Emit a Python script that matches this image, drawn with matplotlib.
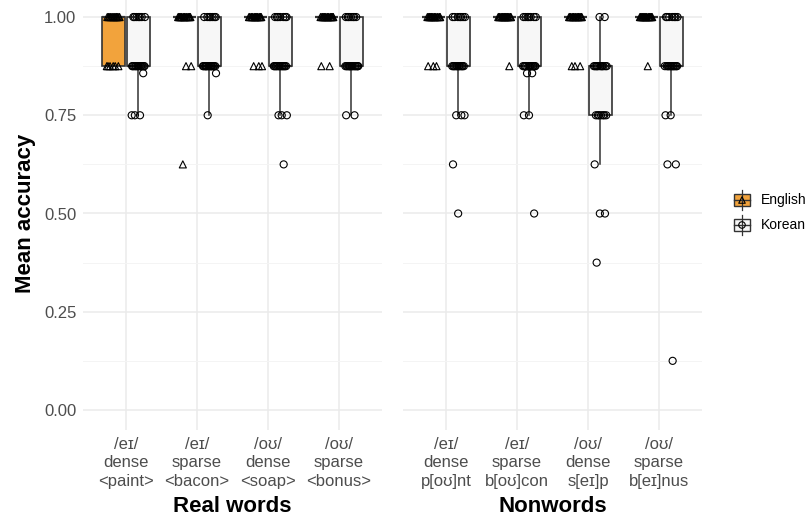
import numpy as np
import matplotlib
matplotlib.use("Agg")
import matplotlib.pyplot as plt
from matplotlib.patches import Rectangle

plt.rcParams['font.family'] = ['Liberation Sans', 'DejaVu Sans']

# condition labels for the two facets
real_labels = ["/eɪ/\ndense\n<paint>", "/eɪ/\nsparse\n<bacon>",
               "/oʊ/\ndense\n<soap>", "/oʊ/\nsparse\n<bonus>"]
non_labels = ["/eɪ/\ndense\np[oʊ]nt", "/eɪ/\nsparse\nb[oʊ]con",
              "/oʊ/\ndense\ns[eɪ]p", "/oʊ/\nsparse\nb[eɪ]nus"]
facets = ["Real words", "Nonwords"]
groups = ["English", "Korean"]


def rep(pairs):
    out = []
    for v, n in pairs:
        out += [v] * n
    return out


# per-participant mean accuracy, English listeners
eng_real = [
    rep([(0.875, 6), (1.0, 14)]),
    rep([(0.625, 1), (0.875, 2), (1.0, 17)]),
    rep([(0.875, 3), (1.0, 17)]),
    rep([(0.875, 2), (1.0, 18)]),
]
eng_non = [
    rep([(0.875, 3), (1.0, 17)]),
    rep([(0.875, 1), (1.0, 19)]),
    rep([(0.875, 3), (1.0, 17)]),
    rep([(0.875, 1), (1.0, 19)]),
]
# per-participant mean accuracy, Korean listeners
kor_real = [
    rep([(0.75, 3), (0.857, 1), (0.875, 13), (1.0, 7)]),
    rep([(0.75, 1), (0.857, 1), (0.875, 15), (1.0, 7)]),
    rep([(0.625, 1), (0.75, 3), (0.875, 13), (1.0, 7)]),
    rep([(0.75, 2), (0.875, 15), (1.0, 7)]),
]
kor_non = [
    rep([(0.5, 1), (0.625, 1), (0.75, 3), (0.875, 12), (1.0, 7)]),
    rep([(0.5, 1), (0.75, 2), (0.857, 2), (0.875, 12), (1.0, 7)]),
    rep([(0.375, 1), (0.5, 2), (0.625, 1), (0.75, 7), (0.875, 11), (1.0, 2)]),
    rep([(0.125, 1), (0.625, 2), (0.75, 2), (0.875, 12), (1.0, 7)]),
]

yticks = [0.0, 0.25, 0.5, 0.75, 1.0]

fills = {"English": "#F2A33C", "Korean": "#F7F7F7"}
markers = {"English": "^", "Korean": "o"}
offsets = {"English": -0.175, "Korean": 0.175}
box_w = 0.33
edge = "#333333"
grid_c = "#EBEBEB"
text_c = "#4D4D4D"

W, H = 806, 521
fig = plt.figure(figsize=(W / 100, H / 100), dpi=100)


def px_axes(x0, x1, ytop, ybot):
    return fig.add_axes([x0 / W, 1 - ybot / H, (x1 - x0) / W, (ybot - ytop) / H])


def spread(n, k):
    # deterministic low-discrepancy horizontal offsets in [-0.5, 0.5)
    return ((np.arange(n) * 0.618034 + 0.37 * k) % 1.0) - 0.5


panels = [
    (px_axes(83.4, 381.6, -2.6, 429.6), real_labels, eng_real, kor_real),
    (px_axes(403.4, 701.6, -2.6, 429.6), non_labels, eng_non, kor_non),
]

for pi, (ax, labels, eng, kor) in enumerate(panels):
    xs = np.arange(len(labels))
    for g, data in (("English", eng), ("Korean", kor)):
        pos = xs + offsets[g]
        ax.boxplot(data, positions=pos, widths=box_w, patch_artist=True,
                   showfliers=False, whis=1.5, manage_ticks=False,
                   boxprops=dict(facecolor=fills[g], edgecolor=edge, linewidth=1.2),
                   medianprops=dict(color=edge, linewidth=1.6),
                   whiskerprops=dict(color=edge, linewidth=1.1),
                   capprops=dict(linewidth=0), zorder=2)
    for g, data in (("English", eng), ("Korean", kor)):
        for i, vals in enumerate(data):
            vals = np.asarray(vals)
            jx = i + offsets[g] + spread(len(vals), i + pi * 4) * 0.19
            ax.scatter(jx, vals, marker=markers[g], s=26, facecolors="none",
                       edgecolors="black", linewidths=0.8, zorder=3)

    ax.set_xlim(-0.6, len(labels) - 0.4)
    ax.set_ylim(-0.05, 1.05)
    ax.set_xticks(xs)
    ax.set_xticklabels(labels, fontsize=12, color=text_c, linespacing=1.3)
    ax.set_yticks(yticks)
    ax.set_yticks([0.125, 0.375, 0.625, 0.875], minor=True)
    ax.grid(True, which="major", color=grid_c, linewidth=1.1)
    ax.grid(True, which="minor", axis="y", color="#F4F4F4", linewidth=0.7)
    ax.set_axisbelow(True)
    for s in ax.spines.values():
        s.set_visible(False)
    ax.tick_params(length=0, pad=5)
    ax.tick_params(which="minor", length=0)
    ax.set_xlabel(facets[pi], fontsize=16, fontweight="bold", labelpad=5)
    if pi == 0:
        ax.set_yticklabels([f"{t:.2f}" for t in yticks], fontsize=12, color=text_c)
        ax.set_ylabel("Mean accuracy", fontsize=16, fontweight="bold", labelpad=6)
    else:
        ax.set_yticklabels([])

# legend keys drawn in a small axes on the right
lax = px_axes(732, 806, 186, 240)
lax.set_xlim(0, 74)
lax.set_ylim(54, 0)
lax.axis("off")
for j, g in enumerate(groups):
    cy = 14 + j * 25
    lax.plot([10, 10], [cy - 10, cy + 10], color=edge, linewidth=0.9)
    lax.add_patch(Rectangle((2, cy - 6), 16, 12, facecolor=fills[g],
                            edgecolor=edge, linewidth=1.0))
    lax.plot([2, 18], [cy, cy], color=edge, linewidth=1.0)
    lax.scatter([10], [cy], marker=markers[g], s=22, facecolors="none",
                edgecolors="black", linewidths=0.8, zorder=3)
    lax.text(29, cy, g, fontsize=10, va="center", ha="left", color="black")

fig.savefig("out.png", dpi=100)
